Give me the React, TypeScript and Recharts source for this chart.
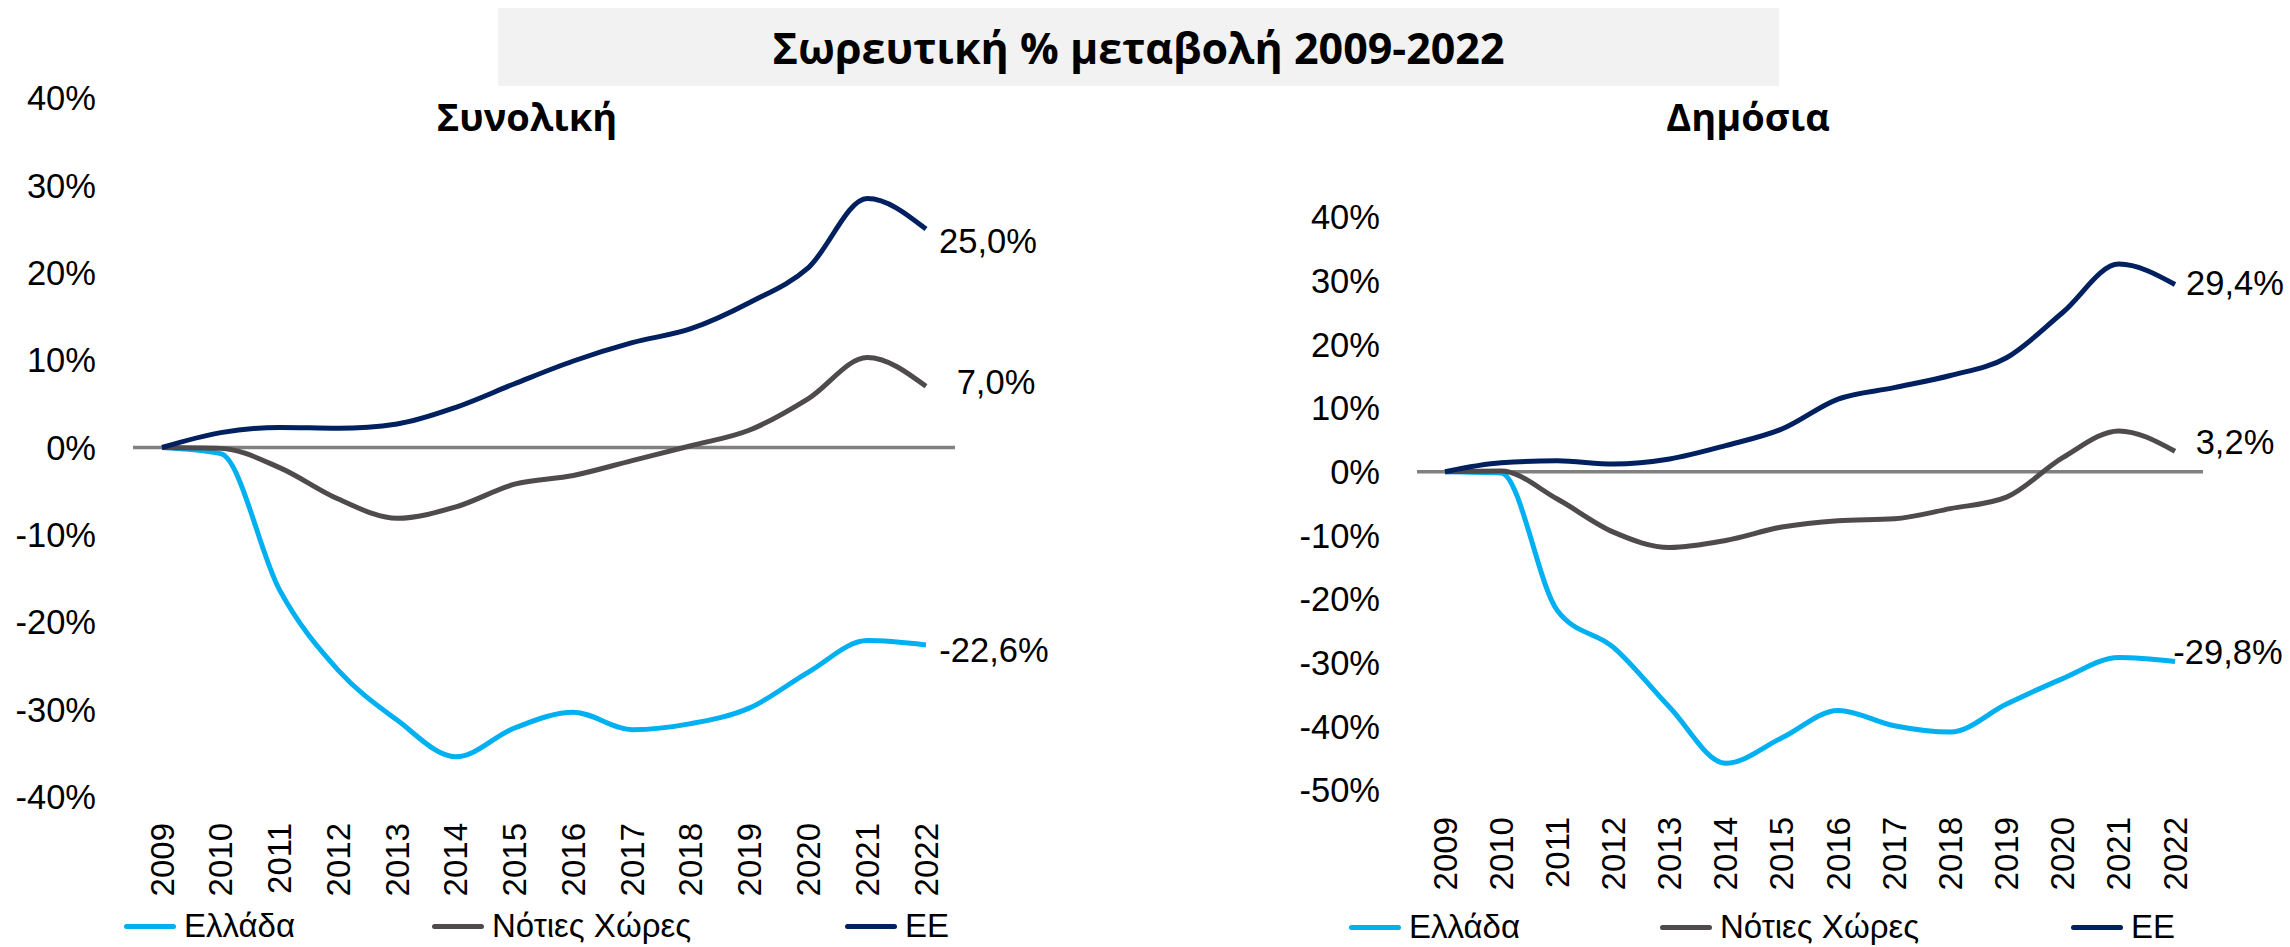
import React from 'react';
import { LineChart, Line, XAxis, YAxis, ReferenceLine, LabelList, Legend } from 'recharts';

const YEARS = ['2009', '2010', '2011', '2012', '2013', '2014', '2015', '2016', '2017', '2018', '2019', '2020', '2021', '2022'];

const TOTAL_GREECE = [0, -0.7, -16.3, -25.5, -31.2, -35.4, -32.1, -30.3, -32.3, -31.6, -29.8, -25.7, -22.1, -22.6];
const TOTAL_SOUTH = [0, -0.1, -2.3, -5.9, -8.1, -6.8, -4.2, -3.2, -1.5, 0.2, 2.0, 5.6, 10.3, 7.0];
const TOTAL_EU = [0, 1.7, 2.3, 2.2, 2.7, 4.6, 7.3, 9.9, 12.0, 13.6, 16.6, 20.6, 28.5, 25.0];

const PUBLIC_GREECE = [0, -0.2, -21.8, -27.6, -37.0, -45.8, -41.8, -37.5, -39.9, -40.9, -36.5, -32.5, -29.2, -29.8];
const PUBLIC_SOUTH = [0, 0.1, -4.3, -9.5, -11.9, -10.8, -8.7, -7.7, -7.4, -5.8, -4.0, 2.2, 6.4, 3.2];
const PUBLIC_EU = [0, 1.4, 1.7, 1.2, 2.0, 4.1, 6.7, 11.4, 13.2, 15.1, 17.9, 25.0, 32.6, 29.4];

const TOTAL_TICKS = [-40, -30, -20, -10, 0, 10, 20, 30, 40];
const PUBLIC_TICKS = [-50, -40, -30, -20, -10, 0, 10, 20, 30, 40];

const SERIES_NAMES = ['Ελλάδα', 'Νότιες Χώρες', 'ΕΕ'];
const TITLE = 'Σωρευτική % μεταβολή 2009-2022';
const SUBTITLES = ['Συνολική', 'Δημόσια'];

const COLORS = ['#00B0F0', '#4F4B4C', '#002060'];
const FONT = '"Liberation Sans", Arial, sans-serif';
const TITLE_FONT = '"Open Sans", "Noto Sans", sans-serif';

const buildData = (g: number[], s: number[], e: number[]) =>
  YEARS.map((year, i) => ({ year, greece: g[i], south: s[i], eu: e[i] }));

const totalData = buildData(TOTAL_GREECE, TOTAL_SOUTH, TOTAL_EU);
const publicData = buildData(PUBLIC_GREECE, PUBLIC_SOUTH, PUBLIC_EU);

const fmt = (v: number) => v.toFixed(1).replace('.', ',') + '%';

const makeEndLabel = (dx: number, dy: number) => (props: any) => {
  const { x, y, value, index } = props;
  if (index !== YEARS.length - 1) return null;
  return (
    <text x={x + dx} y={y + dy} textAnchor="middle" dominantBaseline="central" fontSize={34.5} fontFamily={FONT} fill="#000">
      {fmt(value)}
    </text>
  );
};

const YearTick = (props: any) => {
  const { x, y, payload } = props;
  return (
    <text
      x={x}
      y={y}
      transform={`rotate(-90 ${x} ${y})`}
      textAnchor="end"
      dominantBaseline="central"
      fontSize={33}
      fontFamily={FONT}
      fill="#000"
    >
      {payload.value}
    </text>
  );
};

const makeLegend = (lefts: number[]) => () => (
  <div style={{ position: 'relative', width: 1145, height: 40 }}>
    {SERIES_NAMES.map((name, i) => (
      <div
        key={name}
        style={{ position: 'absolute', left: lefts[i], top: 0, height: 40, display: 'flex', alignItems: 'center' }}
      >
        <div style={{ width: 52, height: 5, borderRadius: 3, background: COLORS[i], marginRight: 8 }} />
        <span style={{ fontSize: 33, fontFamily: FONT, color: '#000', whiteSpace: 'nowrap' }}>{name}</span>
      </div>
    ))}
  </div>
);

type PanelProps = {
  data: any[];
  ticks: number[];
  margin: { top: number; right: number; bottom: number; left: number };
  yWidth: number;
  xHeight: number;
  pad: number;
  tickOffset: number;
  labelOffsets: [number, number][];
  legendLefts: number[];
  legendTop: number;
};

const Panel = ({ data, ticks, margin, yWidth, xHeight, pad, tickOffset, labelOffsets, legendLefts, legendTop }: PanelProps) => (
  <LineChart width={1145} height={947} data={data} margin={margin}>
    <XAxis
      dataKey="year"
      interval={0}
      axisLine={false}
      tickLine={false}
      tickSize={0}
      tickMargin={tickOffset}
      height={xHeight}
      padding={{ left: pad, right: pad }}
      tick={<YearTick />}
    />
    <YAxis
      domain={[ticks[0], ticks[ticks.length - 1]]}
      ticks={ticks}
      width={yWidth}
      axisLine={false}
      tickLine={false}
      tickSize={0}
      tickMargin={37}
      tickFormatter={(v: number) => `${v}%`}
      tick={{ fontSize: 34.5, fontFamily: FONT, fill: '#000' }}
      interval={0}
    />
    <ReferenceLine y={0} stroke="#808080" strokeWidth={3.5} ifOverflow="extendDomain" />
    {(['greece', 'south', 'eu'] as const).map((key, i) => (
      <Line
        key={key}
        dataKey={key}
        name={SERIES_NAMES[i]}
        type="monotone"
        stroke={COLORS[i]}
        strokeWidth={5}
        dot={false}
        activeDot={false}
        isAnimationActive={false}
      >
        <LabelList dataKey={key} content={makeEndLabel(labelOffsets[i][0], labelOffsets[i][1])} />
      </Line>
    ))}
    <Legend
      verticalAlign="middle"
      layout="horizontal"
      content={makeLegend(legendLefts)}
      wrapperStyle={{ top: legendTop, left: 0, width: 1145, height: 40 }}
    />
  </LineChart>
);

export default function App() {
  return (
    <div style={{ position: 'absolute', left: 0, top: 0, width: 2290, height: 947, background: '#fff', fontFamily: FONT, overflow: 'hidden' }}>
      <div
        style={{
          position: 'absolute',
          left: 498,
          top: 8,
          width: 1281,
          height: 78,
          background: '#F2F2F2',
          display: 'flex',
          alignItems: 'center',
          justifyContent: 'center',
          fontWeight: 'bold',
          fontSize: 43,
          fontFamily: TITLE_FONT,
          color: '#000',
        }}
      >
        {TITLE}
      </div>
      <div style={{ position: 'absolute', left: 0, top: 0 }}>
        <Panel
          data={totalData}
          ticks={TOTAL_TICKS}
          margin={{ top: 98, right: 190, bottom: 0, left: 0 }}
          yWidth={133}
          xHeight={150}
          pad={29}
          tickOffset={26}
          labelOffsets={[[68, 5], [70, -4], [62, 12]]}
          legendLefts={[124, 432, 845]}
          legendTop={906}
        />
      </div>
      <div style={{ position: 'absolute', left: 1145, top: 0 }}>
        <Panel
          data={publicData}
          ticks={PUBLIC_TICKS}
          margin={{ top: 217, right: 87, bottom: 0, left: 0 }}
          yWidth={272}
          xHeight={157}
          pad={28}
          tickOffset={27}
          labelOffsets={[[53, -9], [60, -9], [60, -1]]}
          legendLefts={[204, 515, 926]}
          legendTop={907}
        />
      </div>
      <div style={{ position: 'absolute', left: 327, top: 90, width: 400, textAlign: 'center', fontWeight: 'bold', fontSize: 38, fontFamily: TITLE_FONT, color: '#000' }}>
        {SUBTITLES[0]}
      </div>
      <div style={{ position: 'absolute', left: 1548, top: 90, width: 400, textAlign: 'center', fontWeight: 'bold', fontSize: 38, fontFamily: TITLE_FONT, color: '#000' }}>
        {SUBTITLES[1]}
      </div>
    </div>
  );
}
